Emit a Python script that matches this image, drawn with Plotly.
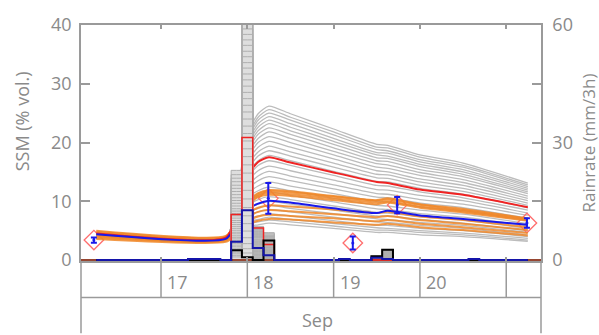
import plotly.graph_objects as go

# ---------------- data ----------------
key_times = ["2017-09-16 06:00", "2017-09-17 18:00", "2017-09-17 21:00", "2017-09-18 00:00",
             "2017-09-18 03:00", "2017-09-18 06:00", "2017-09-18 12:00", "2017-09-19 00:00",
             "2017-09-19 12:00", "2017-09-19 15:00", "2017-09-20 00:00", "2017-09-20 12:00",
             "2017-09-21 06:00"]

grey_members = [
    [4.3, 3.7, 10.5, 21.3, 24.9, 26.2, 24.9, 22.3, 19.7, 19.5, 17.9, 16.5, 13.1],
    [4.3, 3.7, 10.3, 20.8, 24.3, 25.6, 24.3, 21.8, 19.2, 19.1, 17.5, 16.1, 12.8],
    [4.3, 3.7, 10.1, 20.3, 23.8, 25.0, 23.8, 21.3, 18.8, 18.6, 17.1, 15.8, 12.5],
    [4.3, 3.7, 9.9, 19.8, 23.2, 24.4, 23.2, 20.7, 18.3, 18.2, 16.7, 15.4, 12.2],
    [4.3, 3.7, 9.7, 19.4, 22.6, 23.8, 22.6, 20.2, 17.9, 17.7, 16.3, 15.0, 11.9],
    [4.3, 3.7, 9.6, 18.9, 22.0, 23.2, 22.0, 19.7, 17.4, 17.3, 15.9, 14.6, 11.6],
    [4.3, 3.7, 9.3, 18.4, 21.4, 22.5, 21.4, 19.1, 16.9, 16.8, 15.4, 14.2, 11.3],
    [4.3, 3.7, 9.1, 17.8, 20.7, 21.8, 20.7, 18.5, 16.4, 16.2, 14.9, 13.7, 10.9],
    [4.3, 3.7, 8.9, 17.2, 20.0, 21.0, 20.0, 17.9, 15.8, 15.6, 14.4, 13.2, 10.5],
    [4.3, 3.7, 8.7, 16.6, 19.2, 20.2, 19.2, 17.2, 15.2, 15.0, 13.8, 12.7, 10.1],
    [4.3, 3.7, 8.4, 16.0, 18.4, 19.4, 18.4, 16.5, 14.6, 14.5, 13.3, 12.2, 9.7],
    [4.3, 3.7, 8.2, 15.3, 17.7, 18.6, 17.7, 15.8, 14.0, 13.9, 12.7, 11.7, 9.3],
    [4.3, 3.7, 7.9, 14.7, 16.9, 17.8, 16.9, 15.1, 13.4, 13.3, 12.2, 11.2, 8.9],
    [4.3, 3.7, 7.7, 14.0, 16.1, 16.9, 16.1, 14.4, 12.7, 12.6, 11.6, 10.6, 8.5],
    [4.3, 3.7, 7.4, 13.3, 15.2, 16.0, 15.2, 13.6, 12.0, 11.9, 11.0, 10.1, 8.0],
    [4.3, 3.7, 7.1, 12.6, 14.3, 15.1, 14.3, 12.8, 11.3, 11.2, 10.3, 9.5, 7.6],
    [4.3, 3.7, 6.9, 11.9, 13.5, 14.2, 13.5, 12.1, 10.7, 10.6, 9.7, 8.9, 7.1],
    [4.3, 3.7, 6.6, 11.2, 12.6, 13.3, 12.6, 11.3, 10.0, 9.9, 9.1, 8.4, 6.7],
    [4.3, 3.7, 6.3, 10.5, 11.8, 12.4, 11.8, 10.5, 9.3, 9.2, 8.5, 7.8, 6.2],
    [4.3, 3.7, 6.1, 9.9, 11.0, 11.6, 11.0, 9.9, 8.7, 8.6, 7.9, 7.3, 5.8],
    [4.3, 3.7, 5.8, 9.2, 10.3, 10.8, 10.3, 9.2, 8.1, 8.0, 7.4, 6.8, 5.4],
    [4.3, 3.7, 5.6, 8.6, 9.5, 10.0, 9.5, 8.5, 7.5, 7.5, 6.9, 6.3, 5.0],
    [4.3, 3.7, 5.4, 8.1, 8.8, 9.3, 8.8, 7.9, 7.0, 6.9, 6.4, 5.9, 4.7],
    [4.3, 3.7, 5.2, 7.5, 8.2, 8.6, 8.2, 7.3, 6.5, 6.4, 5.9, 5.4, 4.3],
    [4.3, 3.7, 5.0, 7.0, 7.5, 7.9, 7.5, 6.7, 5.9, 5.9, 5.4, 5.0, 4.0],
    [4.3, 3.7, 4.8, 6.5, 6.9, 7.3, 6.9, 6.2, 5.5, 5.4, 5.0, 4.6, 3.7],
    [4.3, 3.7, 4.6, 6.1, 6.5, 6.8, 6.5, 5.8, 5.1, 5.1, 4.7, 4.3, 3.4],
    [4.3, 3.7, 4.5, 5.7, 6.0, 6.3, 6.0, 5.4, 4.7, 4.7, 4.3, 4.0, 3.2],
]

orange_members = [
    [5.0, 4.1, 6.4, 10.0, 11.4, 11.9, 11.7, 10.9, 10.2, 10.5, 9.5, 8.7, 7.1],
    [4.8, 4.0, 6.3, 9.8, 11.2, 11.7, 11.5, 10.8, 10.1, 10.3, 9.4, 8.5, 7.0],
    [4.6, 3.9, 6.2, 9.5, 10.9, 11.4, 11.2, 10.5, 9.8, 10.0, 9.1, 8.3, 6.8],
    [4.4, 3.7, 5.9, 9.3, 10.7, 11.1, 10.9, 10.2, 9.5, 9.8, 8.9, 8.1, 6.7],
    [4.2, 3.6, 5.3, 7.9, 8.9, 9.3, 9.1, 8.6, 8.0, 8.2, 7.4, 6.8, 5.6],
    [4.0, 3.4, 4.9, 7.2, 8.2, 8.5, 8.3, 7.8, 7.3, 7.5, 6.8, 6.2, 5.1],
    [3.8, 3.3, 4.6, 6.6, 7.4, 7.7, 7.5, 7.1, 6.6, 6.8, 6.2, 5.6, 4.6],
    [3.6, 3.1, 4.3, 6.0, 6.7, 7.0, 6.9, 6.4, 6.0, 6.2, 5.6, 5.1, 4.2],
]

red_ssm = [4.5, 3.8, 7.5, 14.3, 16.7, 17.5, 16.6, 14.9, 13.3, 13.1, 12.0, 11.1, 9.0]
blue_ssm = [4.4, 3.6, 6.0, 8.6, 9.6, 10.1, 9.8, 8.8, 8.0, 8.4, 7.6, 7.0, 6.0]

obs_times = ["2017-09-16 05:20", "2017-09-18 05:50", "2017-09-19 05:20",
             "2017-09-19 17:40", "2017-09-21 05:45"]
obs_ssm = [3.4, 10.5, 2.9, 9.35, 6.3]
obs_err = [0.45, 2.6, 1.1, 1.4, 0.8]

# rain, 3-hourly bins centred 2017-09-16 06:00 ... 2017-09-21 06:00 (41 bins)
rain_times = ["2017-09-16 06:00", "2017-09-16 09:00", "2017-09-16 12:00", "2017-09-16 15:00",
              "2017-09-16 18:00", "2017-09-16 21:00", "2017-09-17 00:00", "2017-09-17 03:00",
              "2017-09-17 06:00", "2017-09-17 09:00", "2017-09-17 12:00", "2017-09-17 15:00",
              "2017-09-17 18:00", "2017-09-17 21:00", "2017-09-18 00:00", "2017-09-18 03:00",
              "2017-09-18 06:00", "2017-09-18 09:00", "2017-09-18 12:00", "2017-09-18 15:00",
              "2017-09-18 18:00", "2017-09-18 21:00", "2017-09-19 00:00", "2017-09-19 03:00",
              "2017-09-19 06:00", "2017-09-19 09:00", "2017-09-19 12:00", "2017-09-19 15:00",
              "2017-09-19 18:00", "2017-09-19 21:00", "2017-09-20 00:00", "2017-09-20 03:00",
              "2017-09-20 06:00", "2017-09-20 09:00", "2017-09-20 12:00", "2017-09-20 15:00",
              "2017-09-20 18:00", "2017-09-20 21:00", "2017-09-21 00:00", "2017-09-21 03:00",
              "2017-09-21 06:00"]
rain_blue = [0, 0, 0, 0, 0, 0, 0, 0, 0, 0.3, 0.3, 0.3, 0, 4.7, 12.7, 3.1, 1.2, 0, 0, 0, 0,
             0, 0, 0.3, 0, 0, 0.6, 0.3, 0, 0, 0, 0, 0, 0, 0, 0.3, 0, 0, 0, 0, 0]
rain_red = [0, 0, 0, 0, 0, 0, 0, 0, 0, 0, 0, 0, 0, 11.6, 31.3, 8.2, 4.0, 0, 0, 0, 0,
            0, 0, 0, 0, 0, 0, 0, 0, 0, 0, 0, 0, 0, 0, 0, 0, 0, 0, 0, 0]
rain_black = [0, 0, 0, 0, 0, 0, 0, 0, 0, 0, 0, 0, 0, 2.5, 0.7, 0, 5.0, 0, 0, 0, 0,
              0, 0, 0, 0, 0, 1.0, 2.6, 0, 0, 0, 0, 0, 0, 0, 0, 0, 0, 0, 0, 0]

# grey ensemble rain (only the bins with rain)
grey_rain_t1 = ["2017-09-17 18:00", "2017-09-17 21:00", "2017-09-18 00:00",
                "2017-09-18 03:00", "2017-09-18 06:00", "2017-09-18 09:00"]
grey_rain_t2 = ["2017-09-19 09:00", "2017-09-19 12:00", "2017-09-19 15:00", "2017-09-19 18:00"]
grey_1721 = [22.9, 21.8, 20.9, 20.0, 19.1, 18.3, 17.5, 16.7, 15.9, 15.2, 14.5, 13.8, 13.1, 12.5,
             11.9, 11.3, 10.7, 10.1, 9.6, 9.1, 8.6, 8.1, 7.6, 7.1, 6.7, 6.2, 5.8, 5.4, 5.0, 4.6,
             4.2, 3.8, 3.4, 3.0, 2.7, 2.3, 2.0, 1.6, 1.2, 0.8]
grey_1800 = [78, 72, 68, 65, 62.5, 60.5, 59.0, 57.6, 56.2, 54.8, 53.3, 51.9, 50.4, 49.0, 47.5,
             46.0, 44.4, 42.8, 41.2, 39.5, 37.8, 36.0, 34.2, 32.3, 30.4, 28.4, 26.4, 24.3, 22.2,
             20.0, 17.8, 15.6, 13.4, 11.3, 9.3, 7.4, 5.7, 4.2, 2.9, 1.8]
grey_1803 = [8.6, 8.3, 8.0, 7.8, 7.5, 7.3, 7.0, 6.8, 6.5, 6.3, 6.0, 5.8, 5.6, 5.3, 5.1, 4.9,
             4.7, 4.5, 4.2, 4.0, 3.8, 3.6, 3.4, 3.2, 3.0, 2.8, 2.6, 2.4, 2.2, 2.0, 1.8, 1.6,
             1.4, 1.2, 1.0, 0.8, 0.6, 0.5, 0.3, 0.2]
grey_1806 = [7.0, 6.7, 6.4, 6.2, 6.0, 5.8, 5.6, 5.4, 5.2, 5.0, 4.8, 4.6, 4.4, 4.2, 4.0, 3.8,
             3.6, 3.4, 3.2, 3.1, 2.9, 2.7, 2.5, 2.4, 2.2, 2.0, 1.9, 1.7, 1.5, 1.4, 1.2, 1.0,
             0.9, 0.7, 0.6, 0.4, 0.3, 0.2, 0.1, 0.0]
grey_1912 = [1.0, 0.95, 0.9, 0.85, 0.8, 0.78, 0.75, 0.7, 0.68, 0.65, 0.6, 0.58, 0.55, 0.5,
             0.48, 0.45, 0.42, 0.4, 0.38, 0.35, 0.32, 0.3, 0.28, 0.25, 0.22, 0.2, 0.18, 0.15,
             0.12, 0.1, 0.08, 0.06, 0.05, 0.04, 0.03, 0.02, 0.01, 0.0, 0.0, 0.0]
grey_1915 = [2.7, 2.6, 2.5, 2.4, 2.3, 2.2, 2.1, 2.0, 1.9, 1.8, 1.75, 1.7, 1.6, 1.5, 1.45,
             1.4, 1.3, 1.2, 1.15, 1.1, 1.0, 0.95, 0.9, 0.8, 0.75, 0.7, 0.6, 0.55, 0.5, 0.45,
             0.4, 0.35, 0.3, 0.25, 0.2, 0.15, 0.1, 0.05, 0.0, 0.0]

day_ticks = ["2017-09-17", "2017-09-18", "2017-09-19", "2017-09-20", "2017-09-21"]
day_labels = ["17", "18", "19", "20"]
month_label = "Sep"
x_range = ["2017-09-16 01:45", "2017-09-21 09:40"]

# ---------------- styles ----------------
AX = "#9a9a9a"
TXT = "#8a8a8a"
FONT = "Open Sans"
BLUE = "rgb(25,25,235)"
RED = "rgb(240,35,35)"
SMOOTH = 0.6

fig = go.Figure()

# grey ensemble rain: fill of the envelope, then member outlines
x_gr = grey_rain_t1 + [grey_rain_t1[-1]] + grey_rain_t2
env1 = [0, max(grey_1721), max(grey_1800), max(grey_1803), max(grey_1806), 0]
env2 = [0, max(grey_1912), max(grey_1915), 0]
fig.add_trace(go.Scatter(x=x_gr, y=env1 + [None] + env2, yaxis="y2", mode="lines",
                         line=dict(shape="hvh", width=0, color="rgba(0,0,0,0)"),
                         fill="tozeroy", fillcolor="rgb(222,222,222)", hoverinfo="skip"))
for i in range(len(grey_1800)):
    ys = [0, grey_1721[i], grey_1800[i], grey_1803[i], grey_1806[i], 0, None,
          0, grey_1912[i], grey_1915[i], 0]
    fig.add_trace(go.Scatter(x=x_gr, y=ys, yaxis="y2", mode="lines",
                             line=dict(shape="hvh", width=1, color="rgb(175,175,175)"),
                             hoverinfo="skip"))

# baseline beyond the data range
fig.add_trace(go.Scatter(x=x_range, y=[0, 0], yaxis="y2", mode="lines",
                         line=dict(width=2, color="rgb(150,70,50)"), hoverinfo="skip"))

# grey ensemble SSM
for m in grey_members:
    fig.add_trace(go.Scatter(x=key_times, y=m, mode="lines",
                             line=dict(width=1.3, color="rgb(188,188,188)", shape="spline",
                                       smoothing=SMOOTH), hoverinfo="skip"))

# observation diamonds
fig.add_trace(go.Scatter(x=obs_times, y=obs_ssm, mode="markers",
                         marker=dict(symbol="diamond-open", size=15, color="rgb(255,110,110)",
                                     line=dict(width=1.3)), hoverinfo="skip"))

# orange ensemble SSM
for m in orange_members:
    fig.add_trace(go.Scatter(x=key_times, y=m, mode="lines",
                             line=dict(width=2, color="rgba(240,135,40,0.85)", shape="spline",
                                       smoothing=SMOOTH), hoverinfo="skip"))

# red SSM
fig.add_trace(go.Scatter(x=key_times, y=red_ssm, mode="lines",
                         line=dict(width=2, color=RED, shape="spline", smoothing=SMOOTH),
                         hoverinfo="skip"))

# rain histograms
fig.add_trace(go.Scatter(x=rain_times, y=rain_red, yaxis="y2", mode="lines",
                         line=dict(shape="hvh", width=1.5, color=RED), hoverinfo="skip"))
fig.add_trace(go.Scatter(x=rain_times, y=rain_black, yaxis="y2", mode="lines",
                         line=dict(shape="hvh", width=2, color="black"), hoverinfo="skip"))
fig.add_trace(go.Scatter(x=rain_times, y=rain_blue, yaxis="y2", mode="lines",
                         line=dict(shape="hvh", width=2, color="rgb(20,20,170)"), hoverinfo="skip"))

# blue SSM
fig.add_trace(go.Scatter(x=key_times, y=blue_ssm, mode="lines",
                         line=dict(width=2, color=BLUE, shape="spline", smoothing=SMOOTH),
                         hoverinfo="skip"))

# observation error bars
fig.add_trace(go.Scatter(x=obs_times, y=obs_ssm, mode="markers",
                         marker=dict(size=3, color=BLUE),
                         error_y=dict(type="data", array=obs_err, color=BLUE, thickness=2, width=3),
                         hoverinfo="skip"))

# ---------------- layout ----------------
H, B, T = 335, 74, 16
ph = H - B - T   # 245 px  -> 6.1 px per % vol.


def py(p):
    return (H - B - p) / ph


shapes = []
for d in day_ticks:
    shapes.append(dict(type="line", xref="x", yref="paper", x0=d, x1=d, y0=0, y1=py(299),
                       line=dict(color=AX, width=1.5)))
shapes.append(dict(type="line", xref="paper", yref="paper", x0=0, x1=1, y0=py(299), y1=py(299),
                   line=dict(color=AX, width=1.5)))
for xp in (0, 1):
    shapes.append(dict(type="line", xref="paper", yref="paper", x0=xp, x1=xp, y0=0, y1=py(336),
                       line=dict(color=AX, width=1.5)))

annotations = []
for d, lab in zip(day_ticks, day_labels):
    annotations.append(dict(x=d, y=py(283), xref="x", yref="paper", text=lab, showarrow=False,
                            xanchor="left", yanchor="middle", xshift=4,
                            font=dict(family=FONT, size=18, color=TXT)))
annotations.append(dict(x=(317 - 81) / 460, y=py(322), xref="paper", yref="paper",
                        text=month_label, showarrow=False, xanchor="center", yanchor="middle",
                        font=dict(family=FONT, size=18, color=TXT)))
annotations.append(dict(x=(22 - 81) / 460, y=py(116), xref="paper", yref="paper",
                        text="SSM (% vol.)", showarrow=False, textangle=-90,
                        xanchor="center", yanchor="middle",
                        font=dict(family=FONT, size=18, color=TXT)))
annotations.append(dict(x=(588 - 81) / 460, y=py(139), xref="paper", yref="paper",
                        text="Rainrate (mm/3h)", showarrow=False, textangle=-90,
                        xanchor="center", yanchor="middle",
                        font=dict(family=FONT, size=17, color=TXT)))

fig.update_layout(
    width=599, height=335,
    margin=dict(l=81, r=58, t=T, b=B, pad=0),
    paper_bgcolor="white", plot_bgcolor="white",
    showlegend=False,
    xaxis=dict(type="date", range=x_range, tickvals=day_ticks, showticklabels=False,
               ticks="inside", ticklen=4, tickcolor=AX, tickwidth=1.5,
               showline=True, linecolor=AX, linewidth=1.5, mirror="ticks",
               showgrid=False, zeroline=False),
    yaxis=dict(range=[-0.16, 40], tickvals=[0, 10, 20, 30, 40], ticks="inside", ticklen=9,
               tickcolor=AX, tickwidth=1.5, showline=True, linecolor=AX, linewidth=1.5,
               showgrid=False, zeroline=False, ticklabelstandoff=4,
               tickfont=dict(family=FONT, size=18, color=TXT)),
    yaxis2=dict(range=[-0.24, 60], overlaying="y", side="right", tickvals=[0, 15, 30, 45, 60],
                ticktext=["0", "", "30", "", "60"], ticks="inside", ticklen=9,
                tickcolor=AX, tickwidth=1.5, showline=True, linecolor=AX, linewidth=1.5,
                showgrid=False, zeroline=False, ticklabelstandoff=6,
                tickfont=dict(family=FONT, size=18, color=TXT)),
    shapes=shapes,
    annotations=annotations,
)

fig.write_html("out.html")
